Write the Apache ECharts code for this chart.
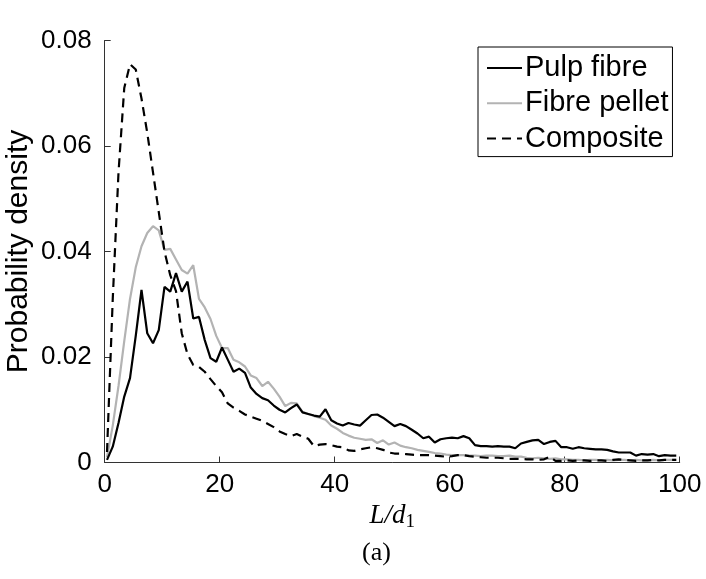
<!DOCTYPE html>
<html>
<head>
<meta charset="utf-8">
<script src="https://cdn.jsdelivr.net/npm/echarts@6/dist/echarts.min.js"></script>
<style>
html,body{margin:0;padding:0;background:#fff;}
#c{width:706px;height:579px;}
</style>
</head>
<body>
<div id="c"></div>
<script>
// L/d1 bin centres
var binCenters = [0.4,1.4,2.4,3.4,4.4,5.4,6.4,7.4,8.4,9.4,10.4,11.4,12.4,13.4,14.4,15.4,16.4,17.4,18.4,19.4,
20.4,21.4,22.4,23.4,24.4,25.4,26.4,27.4,28.4,29.4,30.4,31.4,32.4,33.4,34.4,35.4,36.4,37.4,38.4,39.4,
40.4,41.4,42.4,43.4,44.4,45.4,46.4,47.4,48.4,49.4,50.4,51.4,52.4,53.4,54.4,55.4,56.4,57.4,58.4,59.4,
60.4,61.4,62.4,63.4,64.4,65.4,66.4,67.4,68.4,69.4,70.4,71.4,72.4,73.4,74.4,75.4,76.4,77.4,78.4,79.4,
80.4,81.4,82.4,83.4,84.4,85.4,86.4,87.4,88.4,89.4,90.4,91.4,92.4,93.4,94.4,95.4,96.4,97.4,98.4,99.4];

var pulpFibre = [0.0005,0.0030,0.0075,0.0125,0.0160,0.0240,0.0327,0.0245,0.0226,0.0251,
0.0333,0.0324,0.0359,0.0324,0.0343,0.0273,0.0276,0.0232,0.0198,0.0191,
0.0218,0.0195,0.0172,0.0178,0.0170,0.0142,0.0130,0.0122,0.0118,0.0108,
0.0100,0.0095,0.0103,0.0110,0.0095,0.0092,0.0089,0.0087,0.0101,0.0080,
0.0074,0.0070,0.0075,0.0072,0.0070,0.0080,0.0090,0.0091,0.0085,0.0077,
0.0069,0.0073,0.0069,0.0062,0.0055,0.0046,0.0049,0.0038,0.0044,0.0046,
0.0047,0.0046,0.0050,0.0046,0.0033,0.0031,0.0031,0.0030,0.0031,0.0030,
0.0030,0.0027,0.0036,0.0039,0.0042,0.0043,0.0035,0.0039,0.0041,0.0029,
0.0029,0.0026,0.0029,0.0027,0.0026,0.0025,0.0025,0.0024,0.0021,0.0019,
0.0019,0.0019,0.0013,0.0016,0.0015,0.0016,0.0012,0.0014,0.0013,0.0013];

var fibrePellet = [0.0010,0.0070,0.0145,0.0230,0.0310,0.0370,0.0410,0.0435,0.0448,0.0440,
0.0403,0.0405,0.0385,0.0365,0.0358,0.0374,0.0310,0.0294,0.0272,0.0240,
0.0217,0.0217,0.0195,0.0190,0.0182,0.0165,0.0160,0.0145,0.0153,0.0140,
0.0125,0.0107,0.0113,0.0112,0.0096,0.0092,0.0088,0.0085,0.0081,0.0070,
0.0064,0.0056,0.0051,0.0047,0.0045,0.0043,0.0044,0.0037,0.0042,0.0034,
0.0038,0.0032,0.0029,0.0027,0.0024,0.0022,0.0020,0.0018,0.0017,0.0015,
0.0014,0.0014,0.0014,0.0013,0.0013,0.0012,0.0013,0.0013,0.0012,0.0012,
0.0013,0.0011,0.0011,0.0009,0.0008,0.0009,0.0008,0.0007,0.0008,0.0006,
0.0006,0.0005,0.0005,0.0004,0.0005,0.0005,0.0004,0.0005,0.0004,0.0005,
0.0005,0.0004,0.0005,0.0004,0.0004,0.0005,0.0004,0.0005,0.0005,0.0005];

var composite = [0.0020,0.0310,0.0550,0.0710,0.0755,0.0745,0.0690,0.0625,0.0550,0.0475,
0.0400,0.0355,0.0325,0.0245,0.0205,0.0185,0.0181,0.0172,0.0158,0.0145,
0.0133,0.0112,0.0104,0.0098,0.0091,0.0087,0.0083,0.0079,0.0073,0.0067,
0.0059,0.0054,0.0050,0.0054,0.0049,0.0045,0.0031,0.0034,0.0035,0.0033,
0.0030,0.0029,0.0023,0.0022,0.0025,0.0027,0.0029,0.0027,0.0024,0.0019,
0.0017,0.0017,0.0016,0.0015,0.0014,0.0014,0.0014,0.0013,0.0012,0.0011,
0.0012,0.0014,0.0014,0.0012,0.0011,0.0010,0.0009,0.0009,0.0009,0.0008,
0.0007,0.0007,0.0007,0.0006,0.0006,0.0005,0.0006,0.0011,0.0003,0.0003,
0.0004,0.0003,0.0004,0.0004,0.0003,0.0004,0.0004,0.0003,0.0005,0.0006,
0.0005,0.0004,0.0003,0.0004,0.0004,0.0005,0.0004,0.0005,0.0005,0.0005];

var seriesNames = ['Pulp fibre', 'Fibre pellet', 'Composite'];
var xTicks = [0, 20, 40, 60, 80, 100];
var yTicks = [0, 0.02, 0.04, 0.06, 0.08];

function pairs(ys) { return binCenters.map(function (x, i) { return [x, ys[i]]; }); }

var FONT = '"Liberation Sans", Arial, sans-serif';
var chart = echarts.init(document.getElementById('c'), null, {renderer: 'canvas'});
chart.setOption({
  animation: false,
  backgroundColor: '#ffffff',
  grid: {left: 104.7, right: 26.3, top: 40.5, bottom: 116.5, containLabel: false, outerBoundsMode: 'none'},
  legend: {
    orient: 'vertical', left: 478, top: 47,
    backgroundColor: '#fff',
    borderColor: '#000', borderWidth: 1,
    padding: [6, 4, 3, 8],
    itemWidth: 35, itemHeight: 14, itemGap: 5.3,
    itemStyle: {color: 'rgba(0,0,0,0)', borderWidth: 0, opacity: 0},
    textStyle: {fontFamily: FONT, fontSize: 29, color: '#000', lineHeight: 30, padding: [0, 0, 0, -2]},
    data: seriesNames
  },
  xAxis: {
    type: 'value', min: 0, max: 100, interval: 20,
    axisLine: {show: true, onZero: false, lineStyle: {color: '#333', width: 1}},
    axisTick: {show: true, inside: true, length: 6, lineStyle: {color: '#333'}},
    splitLine: {show: false},
    axisLabel: {fontFamily: FONT, fontSize: 26, color: '#000', margin: 9,
      formatter: function (v) { return xTicks.indexOf(v) >= 0 ? String(v) : ''; }},
    name: '{i|L/d}{s|1}', nameLocation: 'middle', nameGap: 38, nameMoveOverlap: false,
    nameTextStyle: {rich: {
      i: {fontFamily: '"Liberation Serif", "DejaVu Serif", serif', fontStyle: 'italic', fontSize: 27, color: '#000'},
      s: {fontFamily: '"Liberation Serif", "DejaVu Serif", serif', fontSize: 19, color: '#000', verticalAlign: 'bottom', padding: [12, 0, 0, 0]}
    }}
  },
  yAxis: {
    type: 'value', min: 0, max: 0.08, interval: 0.02,
    axisLine: {show: true, onZero: false, lineStyle: {color: '#333', width: 1}},
    axisTick: {show: true, inside: true, length: 6, lineStyle: {color: '#333'}},
    splitLine: {show: false},
    axisLabel: {fontFamily: FONT, fontSize: 26, color: '#000', margin: 13,
      formatter: function (v) {
        for (var i = 0; i < yTicks.length; i++) { if (Math.abs(yTicks[i] - v) < 1e-9) return String(yTicks[i]); }
        return '';
      }},
    name: 'Probability density', nameLocation: 'middle', nameGap: 71, nameRotate: 90, nameMoveOverlap: false,
    nameTextStyle: {fontFamily: FONT, fontSize: 30, color: '#000'}
  },
  graphic: [{
    type: 'text', left: 362, top: 540,
    style: {text: '(a)', font: '26px "Liberation Serif", "DejaVu Serif", serif', fill: '#000'}
  }],
  series: [
    {name: seriesNames[0], type: 'line', data: pairs(pulpFibre), symbol: 'none',
      lineStyle: {color: '#000', width: 2.2}, itemStyle: {color: '#000'}, z: 4},
    {name: seriesNames[1], type: 'line', data: pairs(fibrePellet), symbol: 'none',
      lineStyle: {color: '#b3b3b3', width: 2.2}, itemStyle: {color: '#b3b3b3'}, z: 3},
    {name: seriesNames[2], type: 'line', data: pairs(composite), symbol: 'none',
      lineStyle: {color: '#000', width: 2.2, type: [9, 6]}, itemStyle: {color: '#000'}, z: 5}
  ]
});
</script>
</body>
</html>
